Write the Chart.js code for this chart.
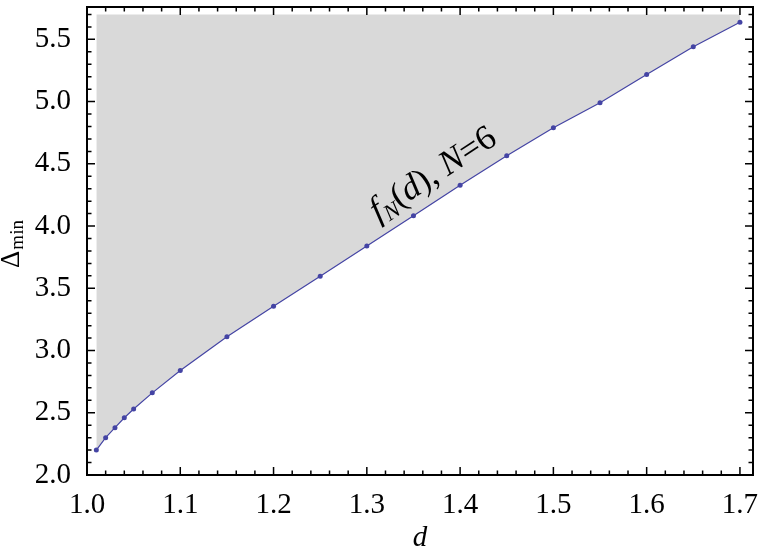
<!DOCTYPE html>
<html>
<head>
<meta charset="utf-8">
<script src="https://cdn.jsdelivr.net/npm/chart.js@4/dist/chart.umd.min.js"></script>
<style>
  body { margin: 0; background: #fff; }
  canvas { display: block; }
</style>
</head>
<body>
<canvas id="myChart" width="762" height="550"></canvas>
<script>
// values
const dValues = [1.01, 1.02, 1.03, 1.04, 1.05, 1.07, 1.1, 1.15, 1.2, 1.25, 1.3, 1.35, 1.4, 1.45, 1.5, 1.55, 1.6, 1.65, 1.7];
const deltaMin = [2.20, 2.30, 2.38, 2.46, 2.53, 2.66, 2.84, 3.11, 3.355, 3.597, 3.839, 4.083, 4.328, 4.565, 4.79, 4.99, 5.218, 5.44, 5.637];
const xTicks = [1.0, 1.1, 1.2, 1.3, 1.4, 1.5, 1.6, 1.7];
const yTicks = [2.0, 2.5, 3.0, 3.5, 4.0, 4.5, 5.0, 5.5];
const fillTop = 5.7;

const serif = '"Liberation Serif"';
const ink = '#4444a4';

// Mathematica style frame with inward ticks on all four sides
const frame = {
  id: 'frame',
  afterDatasetsDraw(chart) {
    const { ctx, chartArea: a, scales: { x, y } } = chart;
    ctx.save();
    ctx.strokeStyle = '#000';
    ctx.lineWidth = 1.5;
    ctx.beginPath();
    for (let i = 50; i <= 85; i++) {
      const px = x.getPixelForValue(i / 50);
      const len = i % 5 === 0 ? 8 : 4.5;
      ctx.moveTo(px, a.bottom); ctx.lineTo(px, a.bottom - len);
      ctx.moveTo(px, a.top); ctx.lineTo(px, a.top + len);
    }
    for (let i = 20; i <= 57; i++) {
      const py = y.getPixelForValue(i / 10);
      const len = i % 5 === 0 ? 8 : 4.5;
      ctx.moveTo(a.left, py); ctx.lineTo(a.left + len, py);
      ctx.moveTo(a.right, py); ctx.lineTo(a.right - len, py);
    }
    ctx.stroke();
    ctx.lineWidth = 2;
    ctx.strokeRect(a.left, a.top, a.right - a.left, a.bottom - a.top);

    // axis titles
    ctx.fillStyle = '#000';
    ctx.textBaseline = 'alphabetic';
    ctx.textAlign = 'center';
    ctx.font = 'italic 29px ' + serif;
    ctx.fillText('d', (a.left + a.right) / 2, 546);

    ctx.save();
    ctx.translate(19, 268);
    ctx.rotate(-Math.PI / 2);
    ctx.textAlign = 'left';
    ctx.font = '27px ' + serif;
    ctx.fillText('Δ', 0, 0);
    const w = ctx.measureText('Δ').width;
    ctx.font = '19px ' + serif;
    ctx.fillText('min', w + 1, 4);
    ctx.restore();

    // curve label, parallel to the line
    const p1 = { x: x.getPixelForValue(1.3), y: y.getPixelForValue(3.839) };
    const p2 = { x: x.getPixelForValue(1.4), y: y.getPixelForValue(4.328) };
    const ang = Math.atan2(p2.y - p1.y, p2.x - p1.x);
    ctx.save();
    ctx.translate(x.getPixelForValue(1.312), y.getPixelForValue(4.035));
    ctx.rotate(ang);
    ctx.textAlign = 'left';
    const parts = [
      ['f', 'italic 35px', 0],
      ['N', 'italic 23px', 6],
      ['(', '35px', 0],
      ['d', 'italic 35px', 0],
      ['), ', '35px', 0],
      ['N', 'italic 35px', 0],
      ['=6', '35px', 0]
    ];
    let cx = 0;
    parts.forEach(([t, f, dy]) => {
      ctx.font = f + ' ' + serif;
      ctx.fillText(t, cx, dy);
      cx += ctx.measureText(t).width;
    });
    ctx.restore();
    ctx.restore();
  }
};

const points = dValues.map((d, i) => ({ x: d, y: deltaMin[i] }));

new Chart(document.getElementById('myChart'), {
  type: 'scatter',
  data: {
    datasets: [{
      data: points,
      showLine: true,
      borderColor: ink,
      borderWidth: 1.2,
      pointRadius: 2.5,
      pointBackgroundColor: ink,
      pointBorderWidth: 0,
      backgroundColor: '#d9d9d9',
      fill: { value: fillTop }
    }]
  },
  options: {
    responsive: false,
    animation: false,
    layout: { padding: { top: 7, right: 9, left: 0, bottom: 0 } },
    plugins: { legend: { display: false }, tooltip: { enabled: false } },
    scales: {
      x: {
        type: 'linear',
        min: 1.0,
        max: 1.714,
        grid: { display: false },
        border: { display: false },
        afterBuildTicks: s => { s.ticks = xTicks.map(v => ({ value: v })); },
        afterFit: s => { s.height = 75; s.paddingLeft = 0; s.paddingRight = 0; },
        ticks: {
          color: '#000',
          padding: 5,
          maxRotation: 0,
          font: { family: serif, size: 29 },
          callback: v => v.toFixed(1)
        }
      },
      y: {
        min: 2.0,
        max: 5.76,
        grid: { display: false },
        border: { display: false },
        afterBuildTicks: s => { s.ticks = yTicks.map(v => ({ value: v })); },
        afterFit: s => { s.width = 87; s.paddingTop = 0; s.paddingBottom = 0; },
        ticks: {
          color: '#000',
          padding: 8,
          font: { family: serif, size: 29 },
          callback: v => v.toFixed(1)
        }
      }
    }
  },
  plugins: [frame]
});
</script>
</body>
</html>
